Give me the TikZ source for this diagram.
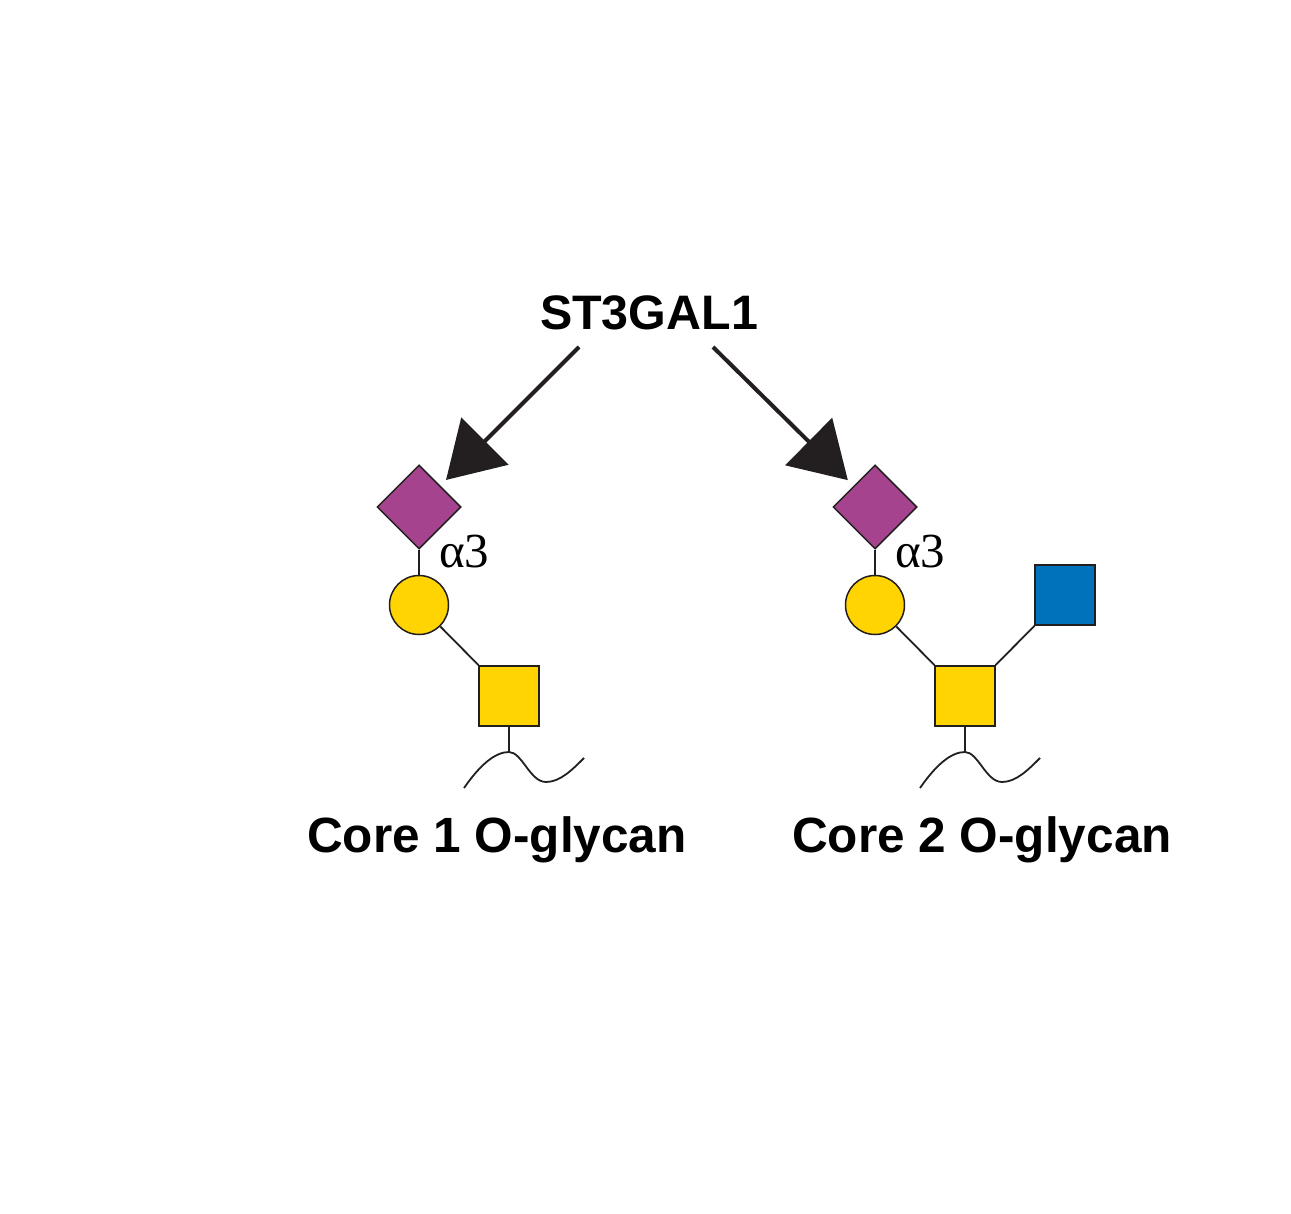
\documentclass[tikz,border=0pt]{standalone}
\usepackage{fontspec}
\usetikzlibrary{arrows.meta,shapes.geometric}
\newfontfamily\labelfont{Liberation Sans}
\newfontfamily\linkfont{Liberation Serif}
\definecolor{snfgpurple}{HTML}{A5438F}
\definecolor{snfgyellow}{HTML}{FFD400}
\definecolor{snfgblue}{HTML}{0072BC}
\definecolor{inkdark}{HTML}{231F20}

\begin{document}
\begin{tikzpicture}[x=1pt,y=-1pt,auto,
    sialic/.style ={diamond, draw=inkdark, line width=1.5pt, fill=snfgpurple, inner sep=0pt, minimum width=84pt, minimum height=84pt},
    galactose/.style ={circle, draw=inkdark, line width=1.5pt, fill=snfgyellow, inner sep=0pt, minimum size=59pt},
    galnac/.style ={rectangle, draw=inkdark, line width=1.5pt, fill=snfgyellow, inner sep=0pt, minimum size=60pt},
    glcnac/.style ={rectangle, draw=inkdark, line width=1.5pt, fill=snfgblue, inner sep=0pt, minimum size=60pt},
    link/.style ={draw=inkdark, line width=1.8pt},
    reaction/.style ={draw=inkdark, line width=4pt, -{Triangle[length=55pt,width=66pt]}, shorten >=8pt},
    enzyme/.style ={font=\labelfont\bfseries\fontsize{48.4}{58}\selectfont, inner sep=0pt, anchor=base},
    caption/.style ={font=\labelfont\bfseries\fontsize{49.5}{60}\selectfont, inner sep=0pt, anchor=base},
    linkage/.style ={font=\linkfont\fontsize{49}{58}\selectfont, inner sep=0pt, anchor=base west}]
   \useasboundingbox (0,0) rectangle (1291,1214);

   \node[enzyme] (st3) at (649,330) {ST3GAL1};

   % core 1
   \node[sialic] (sia1) at (419,507) {};
   \node[galactose] (gal1) at (419,605) {};
   \node[galnac] (gn1) at (509,696) {};
   \coordinate (pep1) at (509,752);
   \node[linkage] (l1) at (439,567) {α3};
   \node[caption] (c1) at (497,852) {Core 1 O-glycan};

   % core 2
   \node[sialic] (sia2) at (875,507) {};
   \node[galactose] (gal2) at (875,605) {};
   \node[galnac] (gn2) at (965,696) {};
   \node[glcnac] (glc2) at (1065,595) {};
   \coordinate (pep2) at (965,752);
   \node[linkage] (l2) at (895,567) {α3};
   \node[caption] (c2) at (982,852) {Core 2 O-glycan};

   \coordinate (a1) at (579,347);
   \coordinate (a2) at (713,347);

   \draw[reaction] (a1) to (sia1);
   \draw[reaction] (a2) to (sia2);

   \draw[link] (sia1) to (gal1);
   \draw[link] (gal1) to (gn1);
   \draw[link] (gn1) to (pep1);
   \draw[link] (sia2) to (gal2);
   \draw[link] (gal2) to (gn2);
   \draw[link] (glc2) to (gn2);
   \draw[link] (gn2) to (pep2);

   \draw[link, shift={(pep1)}] (-45,36) .. controls (-29,13) and (-14,0) .. (0,0)
        .. controls (13,0) and (21,30) .. (37,30) .. controls (51,30) and (63,18) .. (75,6);
   \draw[link, shift={(pep2)}] (-45,36) .. controls (-29,13) and (-14,0) .. (0,0)
        .. controls (13,0) and (21,30) .. (37,30) .. controls (51,30) and (63,18) .. (75,6);
 \end{tikzpicture}
\end{document}
